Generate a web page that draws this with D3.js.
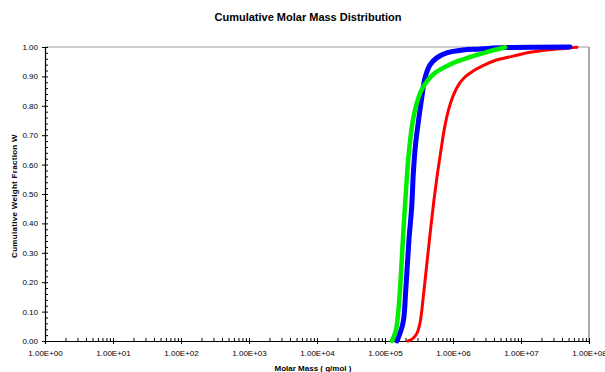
<!DOCTYPE html>
<html>
<head>
<meta charset="utf-8">
<script src="https://cdn.jsdelivr.net/npm/d3@7/dist/d3.min.js"></script>
<style>
  html, body { margin: 0; padding: 0; background: #fff; }
  svg { display: block; font-family: "Liberation Sans", Arial, sans-serif; }
</style>
</head>
<body>
<svg id="chart" width="605" height="372"></svg>
<script>
// Molar mass (g/mol) and cumulative weight fraction for each sample
const redMass = [2.18e5, 2.58e5, 2.96e5, 3.27e5, 3.68e5, 4.15e5, 4.67e5, 5.25e5, 5.92e5, 6.66e5, 7.50e5, 8.59e5, 1.00e6, 1.205e6, 1.50e6, 1.97e6, 2.67e6, 4.15e6, 7.63e6, 1.36e7, 2.41e7, 4.75e7, 6.66e7];
const redW    = [0.000, 0.009, 0.027, 0.061, 0.156, 0.269, 0.378, 0.480, 0.571, 0.650, 0.724, 0.786, 0.833, 0.871, 0.898, 0.918, 0.935, 0.954, 0.969, 0.982, 0.990, 0.996, 0.999];

const blueMass = [1.50e5, 1.84e5, 2.02e5, 2.25e5, 2.47e5, 2.61e5, 2.81e5, 3.09e5, 3.47e5, 3.88e5, 4.59e5, 5.76e5, 8.07e5, 1.40e6, 2.50e6, 5.82e6, 5.26e7];
const blueW    = [0.000, 0.061, 0.173, 0.344, 0.456, 0.571, 0.667, 0.745, 0.827, 0.895, 0.939, 0.963, 0.980, 0.990, 0.993, 0.998, 1.000];

const greenMass = [1.267e5, 1.45e5, 1.55e5, 1.66e5, 1.78e5, 1.90e5, 2.04e5, 2.18e5, 2.37e5, 2.58e5, 2.91e5, 3.38e5, 4.15e5, 5.44e5, 7.63e5, 1.145e6, 1.78e6, 2.96e6, 5.82e6];
const greenW    = [0.000, 0.037, 0.088, 0.173, 0.293, 0.405, 0.514, 0.609, 0.692, 0.752, 0.806, 0.850, 0.884, 0.912, 0.932, 0.951, 0.966, 0.981, 0.999];

const xDecades = [1e0, 1e1, 1e2, 1e3, 1e4, 1e5, 1e6, 1e7, 1e8];
const yMajor = [0, 0.1, 0.2, 0.3, 0.4, 0.5, 0.6, 0.7, 0.8, 0.9, 1.0];

const svg = d3.select("#chart");
const plotLeft = 45, plotRight = 589, plotTop = 47, plotBottom = 341;

const x = d3.scaleLog().domain([1, 1e8]).range([plotLeft, plotRight]);
const y = d3.scaleLinear().domain([0, 1]).range([plotBottom, plotTop]);

// title
svg.append("text")
  .attr("x", 308).attr("y", 21)
  .attr("text-anchor", "middle")
  .attr("font-size", 11).attr("font-weight", "bold")
  .text("Cumulative Molar Mass Distribution");

// frame: top and right edges
svg.append("line").attr("x1", plotLeft).attr("x2", plotRight).attr("y1", plotTop).attr("y2", plotTop)
  .attr("stroke", "#999").attr("stroke-width", 1);
svg.append("line").attr("x1", plotRight).attr("x2", plotRight).attr("y1", plotTop).attr("y2", plotBottom)
  .attr("stroke", "#aaa").attr("stroke-width", 2);

// minor ticks
const xMinor = [];
for (let d = 0; d < 8; d++) for (let k = 2; k <= 9; k++) xMinor.push(k * Math.pow(10, d));
const yMinor = d3.range(0, 51).map(i => i / 50).filter(v => Math.round(v * 50) % 5 !== 0);

svg.append("g").attr("transform", `translate(0,${plotBottom})`)
  .call(d3.axisTop(x).tickValues(xMinor).tickSize(3).tickFormat(""))
  .call(g => g.select(".domain").remove())
  .selectAll("line").attr("stroke", "#000");

svg.append("g").attr("transform", `translate(${plotLeft},0)`)
  .call(d3.axisRight(y).tickValues(yMinor).tickSize(3).tickFormat(""))
  .call(g => g.select(".domain").remove())
  .selectAll("line").attr("stroke", "#000");

// major axes
const fmtExp = v => "1.00E+" + String(Math.round(Math.log10(v))).padStart(2, "0");

const xAxis = svg.append("g").attr("transform", `translate(0,${plotBottom})`)
  .call(d3.axisBottom(x).tickValues(xDecades).tickFormat(fmtExp).tickSizeOuter(0).tickSize(3).tickPadding(6));
xAxis.selectAll(".tick line").attr("y1", -3).attr("y2", 3);
xAxis.selectAll("text").attr("font-size", 8).attr("font-family", "Liberation Sans, Arial, sans-serif").attr("fill", "#000");
xAxis.select(".domain").attr("stroke-width", 1.2);

const yAxis = svg.append("g").attr("transform", `translate(${plotLeft},0)`)
  .call(d3.axisLeft(y).tickValues(yMajor).tickFormat(d3.format(".2f")).tickSizeOuter(0).tickSize(3).tickPadding(4));
yAxis.selectAll(".tick line").attr("x1", -3).attr("x2", 3);
yAxis.selectAll("text").attr("font-size", 8).attr("font-family", "Liberation Sans, Arial, sans-serif").attr("fill", "#000");
yAxis.select(".domain").attr("stroke-width", 1.2);

// axis titles
svg.append("text")
  .attr("x", 313).attr("y", 371)
  .attr("text-anchor", "middle")
  .attr("font-size", 8).attr("font-weight", "bold")
  .text("Molar Mass ( g/mol )");

svg.append("text")
  .attr("transform", "translate(17,196) rotate(-90)")
  .attr("text-anchor", "middle")
  .attr("font-size", 8).attr("font-weight", "bold")
  .attr("letter-spacing", 0.3)
  .text("Cumulative Weight Fraction W");

// curves
const line = d3.line()
  .x(d => x(d[0]))
  .y(d => y(d[1]))
  .curve(d3.curveCatmullRom.alpha(0.5));

const series = [
  { mass: redMass, w: redW, color: "#ff0000", width: 3 },
  { mass: blueMass, w: blueW, color: "#0000ff", width: 5 },
  { mass: greenMass, w: greenW, color: "#00ee00", width: 4.5 }
];

series.forEach(s => {
  svg.append("path")
    .datum(d3.zip(s.mass, s.w))
    .attr("fill", "none")
    .attr("stroke", s.color)
    .attr("stroke-width", s.width)
    .attr("stroke-linejoin", "round")
    .attr("stroke-linecap", "round")
    .attr("d", line);
});
</script>
</body>
</html>
